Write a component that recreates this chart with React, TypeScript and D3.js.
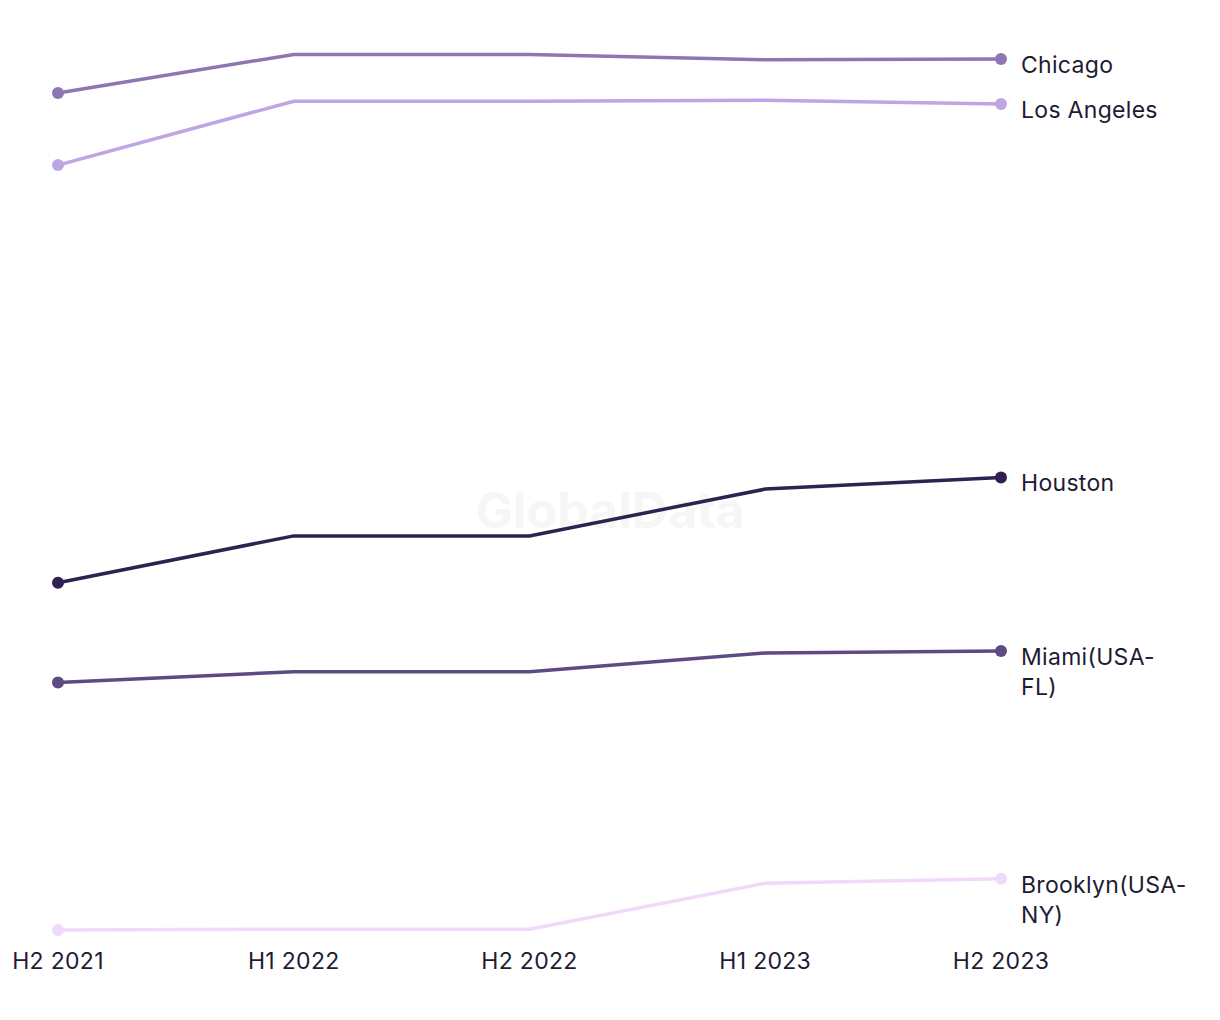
import React from 'react';
import * as d3 from 'd3';

const periods = ['H2 2021', 'H1 2022', 'H2 2022', 'H1 2023', 'H2 2023'];

const cities = ['Chicago', 'Los Angeles', 'Houston', 'Miami(USA-FL)', 'Brooklyn(USA-NY)'];
const labelLines = [['Chicago'], ['Los Angeles'], ['Houston'], ['Miami(USA-', 'FL)'], ['Brooklyn(USA-', 'NY)']];

const chicago = [94.1, 98.4, 98.4, 97.8, 97.9];
const losAngeles = [86.1, 93.2, 93.2, 93.3, 92.9];
const houston = [39.7, 44.9, 44.9, 50.1, 51.4];
const miami = [28.6, 29.8, 29.8, 31.9, 32.1];
const brooklyn = [1.1, 1.2, 1.2, 6.3, 6.8];

const seriesValues = [chicago, losAngeles, houston, miami, brooklyn];
const colors = ['#8d76b2', '#bea5e4', '#2f2150', '#5d4b81', '#f1d9fb'];

const width = 1220;
const height = 1004;

const App: React.FC = () => {
  const x = d3.scalePoint<string>().domain(periods).range([58, 1001]);
  const y = d3.scaleLinear().domain([0, 100]).range([940, 40]);

  const line = d3.line<number>()
    .x((d, i) => x(periods[i]) as number)
    .y(d => y(d));

  const font = 'Inter, "Noto Sans", sans-serif';
  const last = periods.length - 1;

  return (
    <svg width={width} height={height} style={{ display: 'block', margin: '-8px 0 0 -8px' }}>
      <rect width={width} height={height} fill="#ffffff" />
      <text x={610} y={528} textAnchor="middle" fontFamily={font} fontWeight={700}
        fontSize={50} fill="#f6f6f6">GlobalData</text>
      {seriesValues.map((vals, s) => (
        <g key={cities[s]}>
          <path d={line(vals) || ''} fill="none" stroke={colors[s]} strokeWidth={3.5} />
          <circle cx={x(periods[0])} cy={y(vals[0])} r={6} fill={colors[s]} />
          <circle cx={x(periods[last])} cy={y(vals[last])} r={6} fill={colors[s]} />
          <text x={1021} y={y(vals[last]) + 14} fontFamily={font} fontSize={23}
            letterSpacing={0.3} fill="#1e1c33">
            {labelLines[s].map((t, k) => (
              <tspan key={k} x={1021} dy={k === 0 ? 0 : 30}>{t}</tspan>
            ))}
          </text>
        </g>
      ))}
      {periods.map(p => (
        <text key={p} x={x(p)} y={969} textAnchor="middle" fontFamily={font} fontSize={23}
          letterSpacing={0.3} fill="#1e1c33">{p}</text>
      ))}
    </svg>
  );
};

export default App;
